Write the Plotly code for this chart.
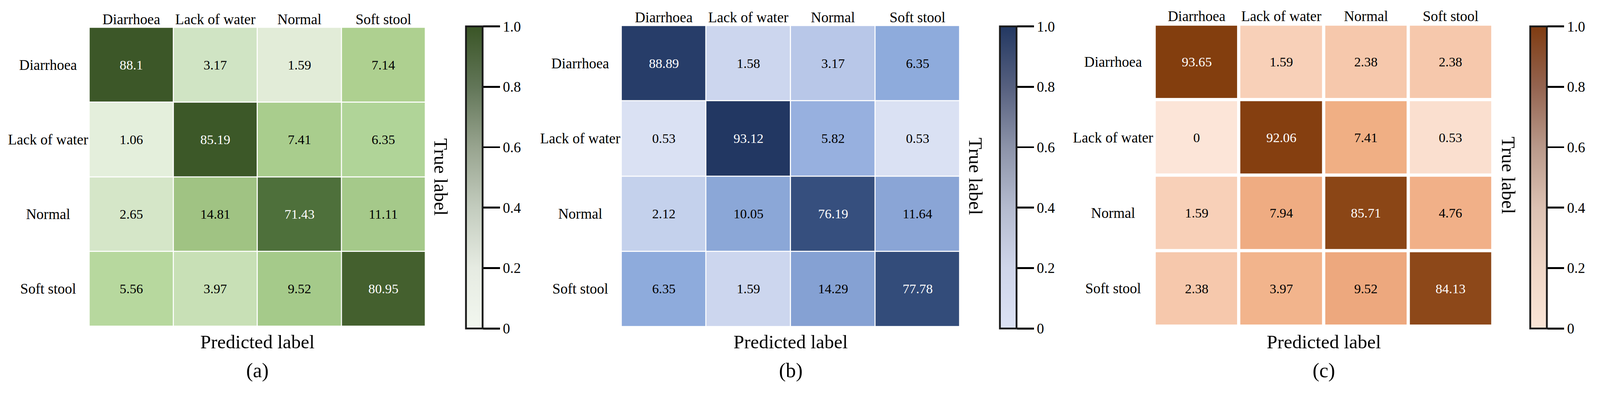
import plotly.graph_objects as go

# ---------------- data ----------------
categories = ["Diarrhoea", "Lack of water", "Normal", "Soft stool"]

values_a = [
    [88.1, 3.17, 1.59, 7.14],
    [1.06, 85.19, 7.41, 6.35],
    [2.65, 14.81, 71.43, 11.11],
    [5.56, 3.97, 9.52, 80.95],
]
values_b = [
    [88.89, 1.58, 3.17, 6.35],
    [0.53, 93.12, 5.82, 0.53],
    [2.12, 10.05, 76.19, 11.64],
    [6.35, 1.59, 14.29, 77.78],
]
values_c = [
    [93.65, 1.59, 2.38, 2.38],
    [0, 92.06, 7.41, 0.53],
    [1.59, 7.94, 85.71, 4.76],
    [2.38, 3.97, 9.52, 84.13],
]
panel_labels = ["(a)", "(b)", "(c)"]
colorbar_ticks = [0, 0.2, 0.4, 0.6, 0.8, 1.0]
colorbar_ticktext = ["0", "0.2", "0.4", "0.6", "0.8", "1.0"]
x_title = "Predicted label"
y_title = "True label"

# ---------------- styles ----------------
W, H = 4426, 1073
FONT = "Liberation Serif"

cell_scale_a = [
    [0.0, "#e8f2e1"], [0.0106, "#e4efdc"], [0.0159, "#e2ecd8"], [0.0265, "#d5e6c8"],
    [0.0317, "#d0e4c4"], [0.0397, "#c8e0b6"], [0.0556, "#b7d89e"], [0.0635, "#b0d498"],
    [0.0714, "#aed090"], [0.0741, "#a9cd8d"], [0.0952, "#a5ca8a"], [0.1111, "#a5c98a"],
    [0.1481, "#a0c383"], [0.7143, "#4e703b"], [0.8095, "#44602e"], [0.8519, "#3c5828"],
    [1.0, "#3a5526"],
]
cell_scale_b = [
    [0.0, "#dde4f4"], [0.0053, "#dae1f3"], [0.0158, "#ccd6ee"], [0.0212, "#c4d1ec"],
    [0.0317, "#b8c7e8"], [0.0582, "#97b0df"], [0.0635, "#8eabdc"], [0.1005, "#8ba7d7"],
    [0.1164, "#8aa5d6"], [0.1429, "#85a1d3"], [0.7619, "#364f7e"], [0.7778, "#334c7a"],
    [0.8889, "#273d69"], [0.9312, "#223762"], [1.0, "#1f335d"],
]
cell_scale_c = [
    [0.0, "#fce5d8"], [0.0053, "#fadfcf"], [0.0159, "#f8d0b8"], [0.0238, "#f6c8ac"],
    [0.0397, "#f2b48c"], [0.0476, "#f1b088"], [0.0741, "#f0af84"], [0.0794, "#efac82"],
    [0.0952, "#eda87e"], [0.8413, "#8d4819"], [0.8571, "#8b4616"], [0.9206, "#853f10"],
    [0.9365, "#833e0e"], [1.0, "#7f3b0b"],
]
bar_scale_a = [[0, "#f2f7ef"], [0.2, "#e6ebe2"], [0.4, "#c3ccbe"], [0.6, "#98a48f"], [0.8, "#627658"], [1, "#3a5526"]]
bar_scale_b = [[0, "#dce2f4"], [0.2, "#cfd5ea"], [0.4, "#b4bbcf"], [0.6, "#8c93a9"], [0.8, "#56607f"], [1, "#233862"]]
bar_scale_c = [[0, "#fae5d6"], [0.2, "#efd6c6"], [0.4, "#dcc1b2"], [0.6, "#b9998a"], [0.8, "#946450"], [1, "#7f3c12"]]

panels = [
    dict(z=values_a, cells=cell_scale_a, bar=bar_scale_a, gap=3,
         hx=(247, 1177), hy=(76, 903), cbx=1289),
    dict(z=values_b, cells=cell_scale_b, bar=bar_scale_b, gap=3,
         hx=(1719, 2655), hy=(71, 904), cbx=2766),
    dict(z=values_c, cells=cell_scale_c, bar=bar_scale_c, gap=9,
         hx=(3193, 4130), hy=(67, 903), cbx=4233),
]
CB_TOP, CB_BOT = 73, 909

fig = go.Figure()
annotations = []
layout_axes = {}

for i, p in enumerate(panels):
    sfx = "" if i == 0 else str(i + 1)
    xa, ya = "x" + sfx, "y" + sfx
    x0, x1 = p["hx"]
    y0, y1 = p["hy"]
    fig.add_trace(go.Heatmap(
        z=p["z"], x=categories, y=categories,
        colorscale=p["cells"], zmin=0, zmax=100, showscale=False,
        xgap=p["gap"], ygap=p["gap"], xaxis=xa, yaxis=ya, hoverinfo="skip",
    ))
    fig.add_trace(go.Scatter(
        x=[categories[0]], y=[categories[0]], mode="markers", xaxis=xa, yaxis=ya,
        hoverinfo="skip", showlegend=False,
        marker=dict(size=1, opacity=0, color=[0], cmin=0, cmax=1,
                    colorscale=p["bar"], showscale=True,
                    colorbar=dict(
                        x=p["cbx"] / W, xanchor="left", xpad=0, ypad=0,
                        y=1 - CB_TOP / H, yanchor="top",
                        len=(CB_BOT - CB_TOP) / H, lenmode="fraction",
                        thickness=46, outlinewidth=5, outlinecolor="#1a1a1a",
                        ticks="outside", ticklen=46, tickwidth=5, tickcolor="#000",
                        tickvals=colorbar_ticks, ticktext=colorbar_ticktext,
                        tickfont=dict(family=FONT, size=40, color="#000"),
                    )),
    ))
    layout_axes["xaxis" + sfx] = dict(
        domain=[x0 / W, x1 / W], anchor=ya, side="top", type="category",
        categoryorder="array", categoryarray=categories,
        showgrid=False, zeroline=False, showline=False, ticks="",
        tickfont=dict(family=FONT, size=40, color="#000"),
    )
    layout_axes["yaxis" + sfx] = dict(
        domain=[1 - y1 / H, 1 - y0 / H], anchor=xa, type="category",
        categoryorder="array", categoryarray=categories, autorange="reversed",
        showgrid=False, zeroline=False, showline=False, ticks="",
        showticklabels=False,
    )
    # row labels (centered, as in the reference)
    for r, cat in enumerate(categories):
        annotations.append(dict(
            x=(x0 - 114) / W, xref="paper", y=cat, yref=ya, text=cat,
            showarrow=False, xanchor="center", yanchor="middle",
            font=dict(family=FONT, size=40, color="#000"),
        ))
    # cell values
    for r, cat_r in enumerate(categories):
        for c, cat_c in enumerate(categories):
            v = p["z"][r][c]
            annotations.append(dict(
                x=cat_c, y=cat_r, xref=xa, yref=ya, text=f"{v:g}", showarrow=False,
                font=dict(family=FONT, size=37, color="#fff" if v > 50 else "#000"),
            ))
    cx = (x0 + x1) / 2 / W
    annotations.append(dict(
        x=cx, y=1 - 946 / H, xref="paper", yref="paper", text=x_title,
        showarrow=False, xanchor="center", yanchor="middle",
        font=dict(family=FONT, size=53, color="#000"),
    ))
    annotations.append(dict(
        x=cx, y=1 - 1025 / H, xref="paper", yref="paper", text=panel_labels[i],
        showarrow=False, xanchor="center", yanchor="middle",
        font=dict(family=FONT, size=56, color="#000"),
    ))
    annotations.append(dict(
        x=(x1 + 43) / W, y=1 - (y0 + y1) / 2 / H, xref="paper", yref="paper",
        text=y_title, textangle=90, showarrow=False, xanchor="center", yanchor="middle",
        font=dict(family=FONT, size=53, color="#000"),
    ))

fig.update_layout(
    width=W, height=H, margin=dict(l=0, r=0, t=0, b=0),
    paper_bgcolor="#fff", plot_bgcolor="#fff",
    annotations=annotations, showlegend=False, **layout_axes,
)

# fit the fixed-size figure into whatever viewport the browser gives
fit_script = """
var gd = document.getElementById('{plot_id}');
document.documentElement.style.margin = '0';
document.documentElement.style.overflow = 'hidden';
document.body.style.margin = '0';
document.body.style.overflow = 'hidden';
var s = Math.min(window.innerWidth / %d, window.innerHeight / %d);
gd.style.transformOrigin = '0 0';
gd.style.transform = 'scale(' + s + ')';
""" % (W, H)

fig.write_html("out.html", post_script=fit_script,
               config={"displayModeBar": False, "responsive": False})
